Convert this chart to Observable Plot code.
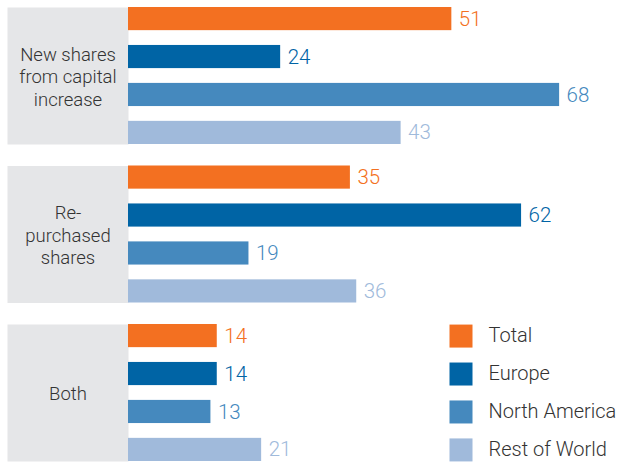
<!DOCTYPE html>
<html>
<head>
<meta charset="utf-8">
<script src="https://cdn.jsdelivr.net/npm/d3@7"></script>
<script src="https://cdn.jsdelivr.net/npm/@observablehq/plot@0.6"></script>
<style>
  html, body { margin: 0; padding: 0; background: #fff; }
  #chart svg { display: block; }
</style>
</head>
<body>
<div id="chart"></div>
<script>
const groups = ["New shares\nfrom capital\nincrease", "Re-\npurchased\nshares", "Both"];
const series = ["Total", "Europe", "North America", "Rest of World"];
const totalValues = [51, 35, 14];
const europeValues = [24, 62, 14];
const northAmericaValues = [68, 19, 13];
const restOfWorldValues = [43, 36, 21];
const colors = ["#f37021", "#0064a5", "#4589be", "#a0badb"];

const valuesBySeries = [totalValues, europeValues, northAmericaValues, restOfWorldValues];
const rows = [];
groups.forEach((g, gi) => {
  series.forEach((s, si) => {
    rows.push({group: g, series: s, value: valuesBySeries[si][gi]});
  });
});

const W = 621, H = 463, ML = 128, MR = 0;
const pxPerUnit = 6.34;
const plotW = W - ML - MR;
const panelW = 121;

const chart = Plot.plot({
  width: W,
  height: H,
  marginLeft: ML,
  marginRight: MR,
  marginTop: 7,
  marginBottom: 2,
  style: {fontFamily: "Roboto, 'Liberation Sans', Arial, sans-serif", fontWeight: 300, background: "#fff"},
  x: {domain: [0, plotW / pxPerUnit], axis: null},
  y: {domain: series, paddingInner: 0.39, paddingOuter: 0, round: false, axis: null},
  fy: {domain: groups, paddingInner: 0.1356, paddingOuter: 0, round: false, axis: null},
  color: {domain: series, range: colors},
  marks: [
    Plot.frame({fill: "#e5e6e8", stroke: "none", insetLeft: -panelW, insetRight: plotW}),
    Plot.barX(rows, {x: "value", y: "series", fy: "group", fill: "series"}),
    Plot.text(rows, {x: "value", y: "series", fy: "group", text: d => String(d.value), fill: "series", dx: 7, textAnchor: "start", fontSize: 20.5, fontWeight: 300}),
    Plot.text(groups, {fy: d => d, text: d => d, frameAnchor: "left", dx: -panelW / 2, textAnchor: "middle", fontSize: 18.5, lineHeight: 1.22, fill: "#333", fontWeight: 300}),
    Plot.dot(series, {fy: () => "Both", y: d => d, frameAnchor: "left", dx: 332.5, symbol: "square", r: 12.98, fill: d => d, stroke: "none"}),
    Plot.text(series, {fy: () => "Both", y: d => d, frameAnchor: "left", dx: 360, text: d => d, textAnchor: "start", fontSize: 20, fill: "#333", fontWeight: 300})
  ]
});
document.getElementById("chart").appendChild(chart);
</script>
</body>
</html>
